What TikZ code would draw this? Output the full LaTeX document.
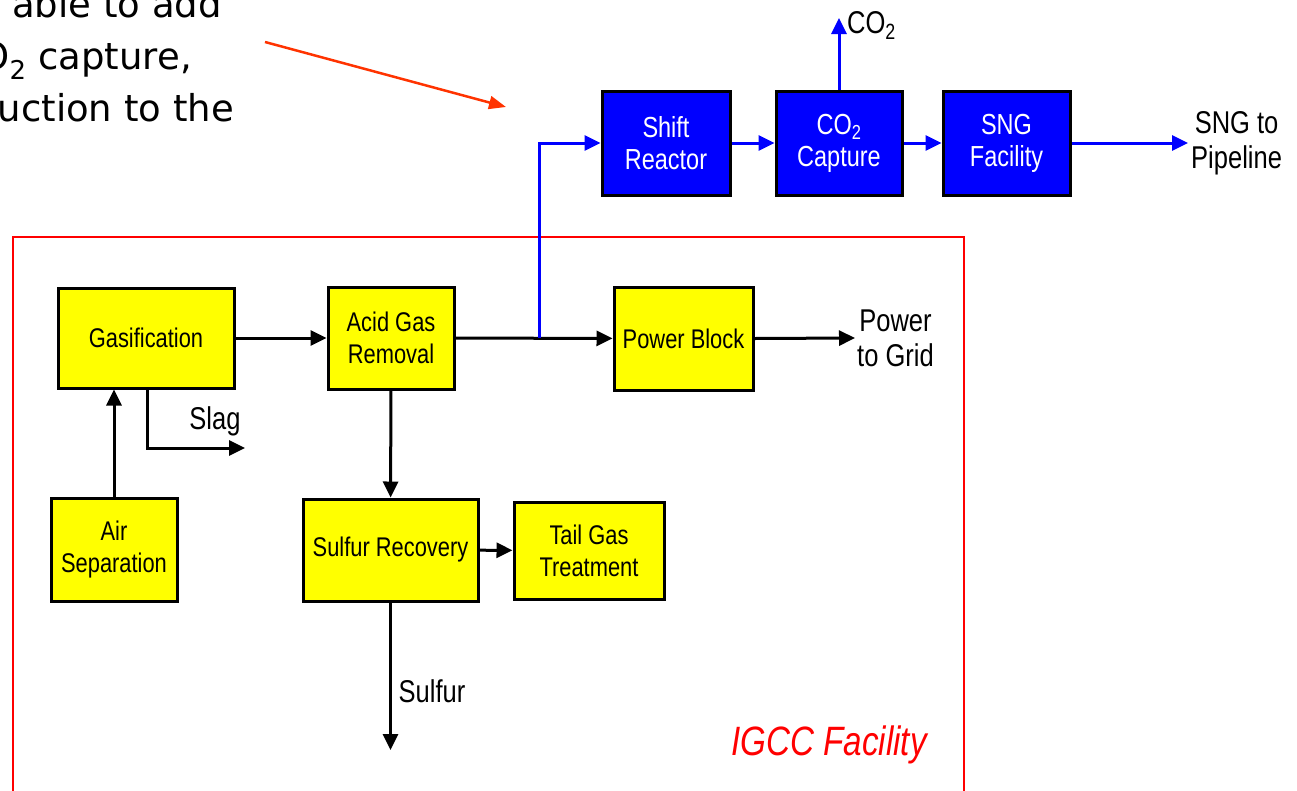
\documentclass[tikz,border=0pt]{standalone}
\usepackage{fontspec}
\setmainfont{Liberation Sans}[FakeStretch=0.81]
\newfontfamily\tahfont{DejaVu Sans}
\usetikzlibrary{arrows.meta}
\definecolor{boxyellow}{RGB}{255,255,0}
\definecolor{boxblue}{RGB}{0,0,255}
\definecolor{igccred}{RGB}{255,0,0}
\definecolor{notered}{RGB}{255,51,0}
\begin{document}
\begin{tikzpicture}[x=1pt,y=-1pt,
  ybox/.style={draw=black, line width=3pt, fill=boxyellow, align=center, inner sep=0pt,
    font=\fontsize{27}{32}\selectfont},
  bbox/.style={draw=black, line width=3pt, fill=boxblue, text=white, align=center, inner sep=0pt,
    font=\fontsize{29}{32}\selectfont},
  flow/.style={line width=3pt, -{Triangle[length=16pt,width=15pt]}},
  bflow/.style={flow, draw=boxblue},
  lbl/.style={font=\fontsize{31.5}{35}\selectfont, align=center, inner sep=0pt},
  note/.style={font=\tahfont\fontsize{37}{44}\selectfont, inner sep=0pt},
]
\useasboundingbox (0,0) rectangle (1297,790);
\clip (0,0) rectangle (1297,790);

% red IGCC frame
\node[draw=igccred, line width=2pt, minimum width=951, minimum height=564,
      anchor=north west, inner sep=0pt] (igcc) at (12,236) {};
\node[text=igccred, font=\itshape\fontsize{41}{48}\selectfont, anchor=east, inner sep=0pt]
      (igcctxt) at (927,745) {IGCC Facility};

% note text (top left)
\node[note, anchor=base east] (t1) at (222,17) {able to add};
\node[note, anchor=base east] (t2) at (192,69) {O\textsubscript{2} capture,};
\node[note, anchor=base east] (t3) at (234,121) {uction to the};
\coordinate (ra1) at (265,42);
\coordinate (ra2) at (506,107);
\draw[line width=2.5pt, draw=notered, -{Triangle[length=17pt,width=13pt]}] (ra1) -- (ra2);

% yellow boxes
\node[ybox, minimum width=176, minimum height=100] (gas) at (146,338) {Gasification};
\node[ybox, minimum width=126, minimum height=102] (agr) at (391,338) {Acid Gas\\Removal};
\node[ybox, minimum width=139, minimum height=103] (pb) at (683.5,338.5) {Power Block};
\node[ybox, minimum width=126, minimum height=103] (air) at (114,549.5) {Air\\Separation};
\node[ybox, minimum width=175, minimum height=102] (sr) at (390.5,550) {Sulfur Recovery};
\node[ybox, minimum width=150, minimum height=97] (tgt) at (589,550.5) {Tail Gas\\Treatment};

% blue boxes
\node[bbox, minimum width=128, minimum height=104] (shift) at (666,143) {Shift\\Reactor};
\node[bbox, minimum width=126, minimum height=104] (cap) at (839,143) {CO\textsubscript{2}\\Capture};
\node[bbox, minimum width=127, minimum height=104] (sng) at (1006.5,143) {SNG\\Facility};

% labels
\node[lbl, anchor=west] (sngtxt) at (1191,143) {SNG to\\Pipeline};
\node[lbl, anchor=west] (pwrtxt) at (857,338) {Power\\to Grid};
\node[lbl] (slag) at (215,421) {Slag};
\node[lbl] (sulf) at (432,691) {Sulfur};
\node[lbl, anchor=base west] (co2txt) at (847,33) {CO\textsubscript{2}};

% black flows
\coordinate (jn) at (539,338);
\coordinate (slagend) at (245,448);
\coordinate (sulfend) at (391,750);
\draw[flow] (gas) -- (agr);
\draw[flow] (agr) -- (pb);
\draw[flow] (pb.east) -- ([xshift=-2pt]pwrtxt.west);
\draw[flow] (air.north) -- (air.north |- gas.south);
\draw[flow] ([xshift=1pt]gas.south) |- (slagend);
\draw[flow] (agr) -- (sr);
\draw[flow] (sr) -- (tgt);
\draw[flow] (sr.south) -- (sr.south |- sulfend);

% blue flows
\draw[bflow] (jn) |- (shift.west);
\draw[bflow] (shift) -- (cap);
\draw[bflow] (cap) -- (sng);
\draw[bflow] (sng.east) -- ([xshift=-3pt]sngtxt.west);
\draw[bflow] (cap.north) -- (cap.north |- 0,18);
\end{tikzpicture}
\end{document}
